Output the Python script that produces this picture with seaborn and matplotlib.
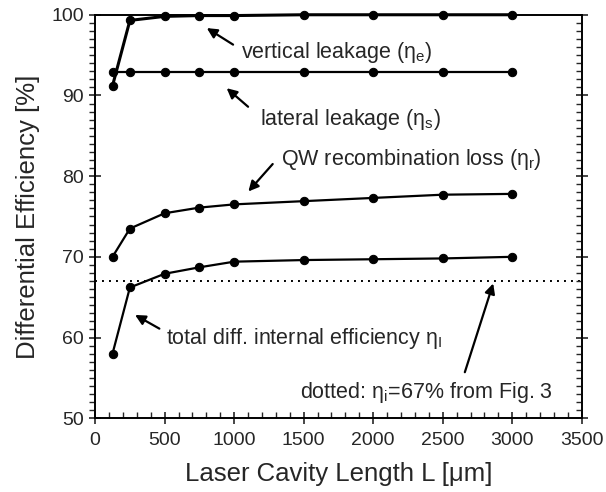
import matplotlib
matplotlib.use("Agg")
import matplotlib.pyplot as plt
from matplotlib.ticker import MultipleLocator
import seaborn as sns
import pandas as pd

# Data
lengths = [125, 250, 500, 750, 1000, 1500, 2000, 2500, 3000]
vertical = [91.2, 99.3, 99.8, 99.9, 99.9, 100.0, 100.0, 100.0, 100.0]
lateral = [92.9, 92.9, 92.9, 92.9, 92.9, 92.9, 92.9, 92.9, 92.9]
qw_recomb = [70.0, 73.5, 75.4, 76.1, 76.5, 76.9, 77.3, 77.7, 77.8]
total = [58.0, 66.2, 67.9, 68.7, 69.4, 69.6, 69.7, 69.8, 70.0]
dotted_level = 67.0

series_names = ["vertical", "lateral", "qw", "total"]
series_vals = [vertical, lateral, qw_recomb, total]

rows = []
for name, vals in zip(series_names, series_vals):
    for L, v in zip(lengths, vals):
        rows.append({"L": L, "eff": v, "series": name})
df = pd.DataFrame(rows)

sns.set_style("ticks")
plt.rcParams["font.family"] = ["Liberation Sans", "DejaVu Sans"]
plt.rcParams["mathtext.fontset"] = "custom"
plt.rcParams["mathtext.rm"] = "Liberation Sans"
plt.rcParams["mathtext.it"] = "Liberation Sans"

fig = plt.figure(figsize=(6.06, 4.92), dpi=100)
ax = fig.add_axes([0.157, 0.150, 0.803, 0.820])

for name in series_names:
    sub = df[df["series"] == name]
    lw = 2.2 if name == "vertical" else 1.6
    sns.lineplot(data=sub, x="L", y="eff", ax=ax, color="black", lw=lw,
                 marker="o", markersize=6, markeredgecolor="black",
                 clip_on=False, legend=False, zorder=3)

ax.axhline(dotted_level, color="black", lw=1.4, ls=(0, (1, 2.6)), zorder=2)

ax.set_xlim(0, 3500)
ax.set_ylim(50, 100)
ax.xaxis.set_major_locator(MultipleLocator(500))
ax.xaxis.set_minor_locator(MultipleLocator(100))
ax.yaxis.set_major_locator(MultipleLocator(10))
ax.yaxis.set_minor_locator(MultipleLocator(1))

ax.tick_params(axis="x", which="major", direction="inout", length=8, width=1.2,
               labelsize=14, top=False, pad=6)
ax.tick_params(axis="x", which="minor", direction="in", length=4, width=1.0, top=False)
ax.tick_params(axis="y", which="major", direction="inout", length=8, width=1.2,
               labelsize=14, right=False, pad=4)
ax.tick_params(axis="y", which="minor", direction="out", length=4, width=1.0, right=False)

ax2 = ax.twinx()
ax2.set_ylim(50, 100)
ax2.yaxis.set_major_locator(MultipleLocator(10))
ax2.yaxis.set_minor_locator(MultipleLocator(1))
ax2.tick_params(axis="y", which="major", direction="inout", length=8, width=1.2, labelright=False)
ax2.tick_params(axis="y", which="minor", direction="in", length=4, width=1.0)
for a in (ax, ax2):
    for s in a.spines.values():
        s.set_linewidth(1.2)
        s.set_color("black")

ax.set_xlabel("Laser Cavity Length L [\u03bcm]", fontsize=18.5, labelpad=9)
ax.set_ylabel("Differential Efficiency [%]", fontsize=18.5, labelpad=8)

arrow = dict(arrowstyle="-|>,head_length=0.6,head_width=0.3", color="black", lw=1.6,
             shrinkA=0, shrinkB=0)

fs = 15.5
ax.annotate("", xy=(803, 98.35), xytext=(992, 96.3), arrowprops=arrow)
ax.text(1050, 95.3, r"vertical leakage ($\eta_{\rm e}$)", fontsize=fs, ha="left", va="center")

ax.annotate("", xy=(946, 90.9), xytext=(1100, 88.6), arrowprops=arrow)
ax.text(1185, 87.0, r"lateral leakage ($\eta_{\rm s}$)", fontsize=fs, ha="left", va="center")

ax.annotate("", xy=(1102, 78.1), xytext=(1277, 81.5), arrowprops=arrow)
ax.text(1340, 82.0, r"QW recombination loss ($\eta_{\rm r}$)", fontsize=fs, ha="left", va="center")

ax.annotate("", xy=(287, 62.8), xytext=(462, 61.1), arrowprops=arrow)
ax.text(512, 59.9, r"total diff. internal efficiency $\eta_{\rm I}$", fontsize=fs, ha="left", va="center")

ax.annotate("", xy=(2863, 66.7), xytext=(2659, 55.7), arrowprops=arrow)
ax.text(1475, 53.2, r"dotted: $\eta_{\rm i}$=67% from Fig. 3", fontsize=fs, ha="left", va="center")

fig.savefig("out.png", dpi=100)
